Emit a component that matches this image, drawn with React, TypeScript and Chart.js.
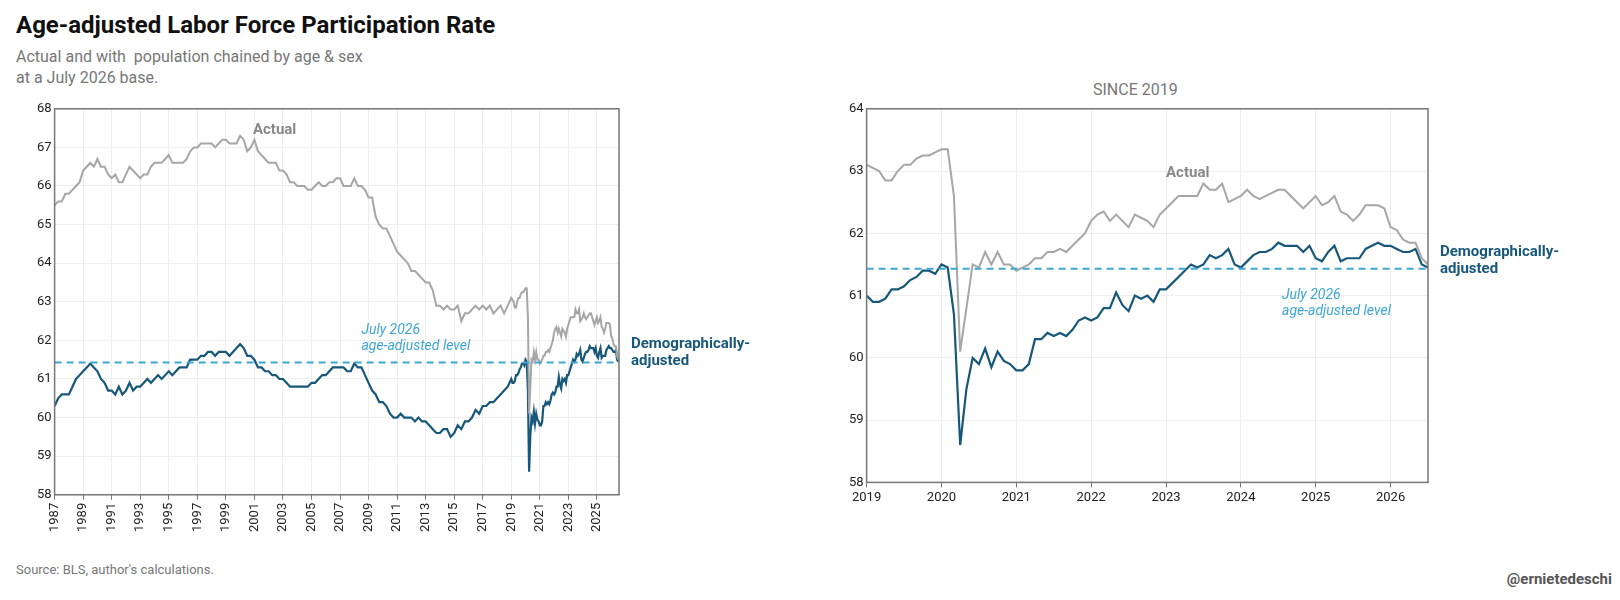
import React, { useEffect, useRef } from "react";
import { Chart, registerables } from "chart.js";
Chart.register(...registerables);

const FONT = "Roboto, 'Noto Sans', sans-serif";
const GRAY = "#a6a6a6";
const BLUE = "#17587a";
const DASH = "#3fa6d4";
const LEVEL = 61.43;

// Quarterly, 1987 Q1 – 2018 Q4
const actualQ = [
  65.5,65.6,65.6,65.8, 65.8,65.9,66.0,66.1, 66.4,66.5,66.6,66.5, 66.7,66.5,66.5,66.3,
  66.2,66.3,66.1,66.1, 66.3,66.5,66.4,66.3, 66.2,66.3,66.3,66.5, 66.6,66.6,66.6,66.7,
  66.8,66.6,66.6,66.6, 66.6,66.7,66.9,67.0, 67.0,67.1,67.1,67.1, 67.1,67.0,67.1,67.2,
  67.2,67.1,67.1,67.1, 67.3,67.2,66.9,67.0, 67.2,66.9,66.8,66.7, 66.6,66.6,66.6,66.4,
  66.4,66.3,66.1,66.1, 66.0,66.0,66.0,65.9, 65.9,66.0,66.1,66.0, 66.0,66.1,66.1,66.2,
  66.2,66.0,66.0,66.0, 66.2,66.0,66.0,65.9, 65.7,65.7,65.2,65.0, 64.9,64.9,64.7,64.5,
  64.3,64.2,64.1,64.0, 63.8,63.8,63.7,63.6, 63.5,63.5,63.3,62.9, 62.9,62.8,62.9,62.8,
  62.8,62.9,62.5,62.7, 62.7,62.8,62.9,62.8, 62.9,62.8,62.9,62.7, 62.8,62.9,62.7,62.9,
];
const adjustedQ = [
  60.3,60.5,60.6,60.6, 60.6,60.8,61.0,61.1, 61.2,61.3,61.4,61.3, 61.2,61.0,60.9,60.7,
  60.7,60.6,60.8,60.6, 60.7,60.9,60.7,60.8, 60.8,60.9,61.0,60.9, 61.0,61.1,61.0,61.1,
  61.2,61.1,61.2,61.3, 61.3,61.3,61.5,61.5, 61.5,61.6,61.6,61.7, 61.7,61.6,61.7,61.7,
  61.7,61.6,61.7,61.8, 61.9,61.8,61.6,61.6, 61.5,61.3,61.3,61.2, 61.2,61.1,61.1,61.0,
  61.0,60.9,60.8,60.8, 60.8,60.8,60.8,60.8, 60.9,60.9,61.0,61.1, 61.1,61.2,61.3,61.3,
  61.3,61.3,61.2,61.2, 61.4,61.3,61.3,61.1, 60.9,60.7,60.6,60.4, 60.4,60.3,60.1,60.0,
  60.0,60.1,60.0,60.0, 60.0,59.9,60.0,59.9, 59.9,59.8,59.7,59.6, 59.6,59.7,59.7,59.5,
  59.6,59.8,59.7,59.9, 59.9,60.0,60.2,60.1, 60.3,60.3,60.4,60.4, 60.5,60.6,60.7,60.8,
];
// Monthly, Jan 2019 – Jul 2026
const actualM = [
  63.1,63.05,63.0,62.85,62.85,63.0,63.1,63.1,63.2,63.25,63.25,63.3,
  63.35,63.35,62.6,60.1,60.8,61.5,61.45,61.7,61.5,61.7,61.5,61.5,
  61.4,61.45,61.5,61.6,61.6,61.7,61.7,61.75,61.7,61.8,61.9,62.0,
  62.2,62.3,62.35,62.2,62.3,62.2,62.1,62.3,62.25,62.2,62.1,62.3,
  62.4,62.5,62.6,62.6,62.6,62.6,62.8,62.7,62.7,62.8,62.5,62.55,
  62.6,62.7,62.6,62.55,62.6,62.65,62.7,62.7,62.6,62.5,62.4,62.5,
  62.6,62.45,62.5,62.6,62.35,62.3,62.2,62.3,62.45,62.45,62.45,62.4,
  62.1,62.05,61.9,61.85,61.85,61.6,61.5,
];
const adjustedM = [
  61.0,60.9,60.9,60.95,61.1,61.1,61.15,61.25,61.3,61.4,61.4,61.35,
  61.5,61.45,60.7,58.6,59.5,60.0,59.9,60.15,59.85,60.1,59.95,59.9,
  59.8,59.8,59.9,60.3,60.3,60.4,60.35,60.4,60.35,60.45,60.6,60.65,
  60.6,60.65,60.8,60.8,61.05,60.85,60.75,61.0,60.95,61.0,60.9,61.1,
  61.1,61.2,61.3,61.4,61.5,61.45,61.5,61.65,61.6,61.65,61.75,61.5,
  61.45,61.55,61.65,61.7,61.7,61.75,61.85,61.8,61.8,61.8,61.7,61.8,
  61.6,61.55,61.7,61.8,61.55,61.6,61.6,61.6,61.75,61.8,61.85,61.8,
  61.8,61.75,61.7,61.7,61.75,61.5,61.45,
];
const leftTicks = [1987,1989,1991,1993,1995,1997,1999,2001,2003,2005,2007,2009,2011,2013,2015,2017,2019,2021,2023,2025];
const rightTicks = [2019,2020,2021,2022,2023,2024,2025,2026];

const q = (arr: number[]) => arr.map((y, i) => ({ x: 1987 + i / 4, y }));
const m = (arr: number[]) => arr.map((y, i) => ({ x: 2019 + i / 12, y }));

type Note = { text: string[]; x: number; y: number; color: string; italic?: boolean; bold?: boolean; size: number };

function makeChart(canvas: HTMLCanvasElement, cfg: any) {
  const { actual, adjusted, xmin, xmax, ymin, ymax, ticks, rotate, notes, levelX } = cfg;
  const notePlugin = {
    id: "notes",
    afterDatasetsDraw(chart: any) {
      const c = chart.ctx;
      const xs = chart.scales.x, ys = chart.scales.y;
      c.save();
      c.strokeStyle = "#777";
      c.lineWidth = 1.5;
      const a = chart.chartArea;
      c.strokeRect(a.left, a.top, a.right - a.left, a.bottom - a.top);
      notes.forEach((n: Note) => {
        c.fillStyle = n.color;
        c.font = `${n.italic ? "italic " : ""}${n.bold ? "bold " : ""}${n.size}px ${FONT}`;
        c.textAlign = "left";
        c.textBaseline = "middle";
        const px = n.x > 9000 ? a.right + 12 : xs.getPixelForValue(n.x);
        n.text.forEach((t, i) => c.fillText(t, px, ys.getPixelForValue(n.y) + i * (n.size + 2)));
      });
      c.restore();
    },
  };
  return new Chart(canvas, {
    type: "line",
    data: {
      datasets: [
        { data: [{ x: xmin, y: LEVEL }, { x: levelX, y: LEVEL }], borderColor: DASH, borderDash: [7, 5], borderWidth: 2, pointRadius: 0 },
        { data: actual, borderColor: GRAY, borderWidth: 2, pointRadius: 0, tension: 0 },
        { data: adjusted, borderColor: BLUE, borderWidth: 2.2, pointRadius: 0, tension: 0 },
      ],
    },
    options: {
      animation: false,
      responsive: false,
      layout: { padding: { right: cfg.padRight, top: 8 } },
      plugins: { legend: { display: false }, tooltip: { enabled: false } },
      scales: {
        x: {
          type: "linear", min: xmin, max: xmax,
          afterBuildTicks: (s: any) => { s.ticks = ticks.map((v: number) => ({ value: v })); },
          ticks: { color: "#222", font: { family: FONT, size: 13 }, maxRotation: rotate, minRotation: rotate, callback: (v: any) => String(v) },
          grid: { color: "#eeeeee", drawTicks: true, tickColor: "#777", tickLength: 5 },
          border: { color: "#777" },
        },
        y: {
          min: ymin, max: ymax,
          ticks: { stepSize: 1, color: "#222", font: { family: FONT, size: 13 } },
          grid: { color: "#eeeeee", drawTicks: false },
          border: { color: "#777" },
        },
      },
    },
    plugins: [notePlugin],
  });
}

function Panel({ cfg, w, h }: { cfg: any; w: number; h: number }) {
  const ref = useRef<HTMLCanvasElement>(null);
  useEffect(() => {
    const ch = makeChart(ref.current!, cfg);
    return () => ch.destroy();
  }, []);
  return <canvas ref={ref} width={w} height={h} style={{ width: w, height: h }} />;
}

export default function App() {
  const left = {
    actual: [...q(actualQ), ...m(actualM)],
    adjusted: [...q(adjustedQ), ...m(adjustedM)],
    xmin: 1987, xmax: 2026.55, ymin: 58, ymax: 68, ticks: leftTicks, rotate: 90, padRight: 150, levelX: 2026.55,
    notes: [
      { text: ["Actual"], x: 2000.9, y: 67.45, color: "#888", bold: true, size: 15 },
      { text: ["July 2026", "age-adjusted level"], x: 2008.5, y: 62.25, color: DASH, italic: true, size: 14 },
      { text: ["Demographically-", "adjusted"], x: 99999, y: 61.9, color: BLUE, bold: true, size: 15 },
    ],
  };
  const right = {
    actual: m(actualM), adjusted: m(adjustedM),
    xmin: 2019, xmax: 2026.5, ymin: 58, ymax: 64, ticks: rightTicks, rotate: 0, padRight: 140, levelX: 2026.5,
    notes: [
      { text: ["Actual"], x: 2023.0, y: 62.97, color: "#888", bold: true, size: 15 },
      { text: ["July 2026", "age-adjusted level"], x: 2024.55, y: 61.0, color: DASH, italic: true, size: 14 },
      { text: ["Demographically-", "adjusted"], x: 99999, y: 61.7, color: BLUE, bold: true, size: 15 },
    ],
  };
  return (
    <div style={{ position: "relative", width: 1604, height: 584, fontFamily: FONT, background: "#fff" }}>
      <div style={{ position: "absolute", left: 8, top: 3, fontSize: 24, fontWeight: 700, color: "#111" }}>Age-adjusted Labor Force Participation Rate</div>
      <div style={{ position: "absolute", left: 8, top: 38, fontSize: 16, color: "#777", lineHeight: "21px" }}>
        Actual and with&nbsp; population chained by age &amp; sex<br />at a July 2026 base.
      </div>
      <div style={{ position: "absolute", left: 26, top: 90 }}><Panel cfg={left} w={735} h={437} /></div>
      <div style={{ position: "absolute", left: 1085, top: 72, fontSize: 16, color: "#777" }}>SINCE 2019</div>
      <div style={{ position: "absolute", left: 838, top: 90 }}><Panel cfg={right} w={722} h={411} /></div>
      <div style={{ position: "absolute", left: 8, top: 554, fontSize: 13, color: "#777" }}>Source: BLS, author's calculations.</div>
      <div style={{ position: "absolute", right: 0, top: 562, fontSize: 15, fontWeight: 700, color: "#555" }}>@ernietedeschi</div>
    </div>
  );
}
